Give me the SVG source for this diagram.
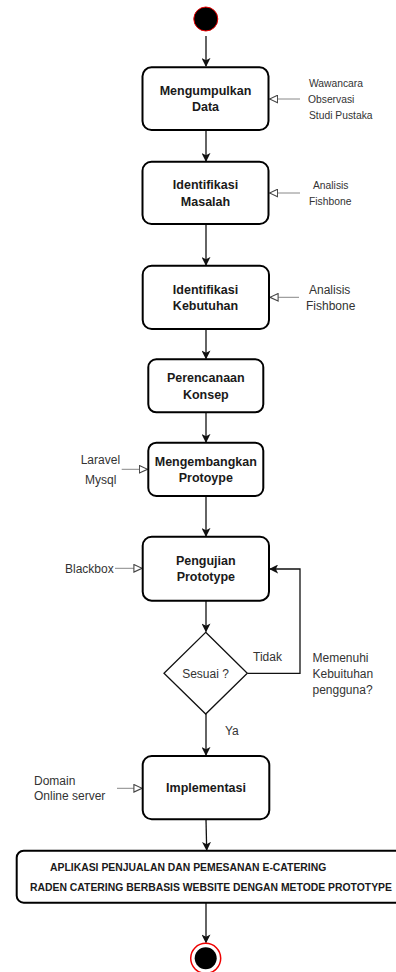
<svg xmlns="http://www.w3.org/2000/svg" width="396" height="972" viewBox="0 0 396 972">
<defs>
<style>
.box{fill:#fff;stroke:#000;stroke-width:2}
.t{font-family:"Liberation Sans",Arial,sans-serif;font-size:12.5px;font-weight:bold;fill:#1a1a1a;text-anchor:middle}
.s{font-family:"Liberation Sans",Arial,sans-serif;font-size:12px;fill:#333}
.s10{font-family:"Liberation Sans",Arial,sans-serif;font-size:10.3px;fill:#333}
.b{font-family:"Liberation Sans",Arial,sans-serif;font-size:10.4px;font-weight:bold;fill:#1a1a1a}
.flow{stroke:#111;stroke-width:1.3;fill:none;marker-end:url(#arr)}
.side{stroke:#888;stroke-width:1;fill:none;marker-end:url(#open)}
</style>
<marker id="arr" viewBox="0 0 10 10" refX="9" refY="5" markerWidth="9" markerHeight="9" markerUnits="userSpaceOnUse" orient="auto">
<path d="M0,0 L10,5 L0,10 L2.5,5 Z" fill="#111"/>
</marker>
<marker id="open" viewBox="0 0 10 10" refX="9.5" refY="5" markerWidth="9" markerHeight="9" markerUnits="userSpaceOnUse" orient="auto">
<path d="M0.5,0.8 L9.5,5 L0.5,9.2 Z" fill="#fff" stroke="#444" stroke-width="1.2"/>
</marker>
</defs>
<rect width="396" height="972" fill="#fff"/>

<g id="connectors">
<line class="flow" x1="206" y1="36" x2="206" y2="66"/>
<line class="flow" x1="206" y1="130" x2="206" y2="161"/>
<line class="flow" x1="206" y1="224" x2="206" y2="265"/>
<line class="flow" x1="206" y1="329" x2="206" y2="358.5"/>
<line class="flow" x1="206" y1="412.5" x2="206" y2="442"/>
<line class="flow" x1="206" y1="496" x2="206" y2="536"/>
<line class="flow" x1="206" y1="600.5" x2="206" y2="631.5"/>
<polyline class="flow" points="247.5,673.3 300,673.3 300,569 270,569"/>
<line class="flow" x1="206" y1="714" x2="206" y2="755"/>
<line class="flow" x1="206" y1="819.5" x2="206.7" y2="850"/>
<line class="flow" x1="206" y1="903" x2="206" y2="942.5"/>
<line class="side" x1="300" y1="99" x2="269.5" y2="99"/>
<line class="side" x1="300" y1="193" x2="269.5" y2="193"/>
<line class="side" x1="299" y1="297.3" x2="270" y2="297.3"/>
<line class="side" x1="121.7" y1="469.3" x2="147.5" y2="469.3"/>
<line class="side" x1="115" y1="568.3" x2="142" y2="568.3"/>
<line class="side" x1="117" y1="788.3" x2="142" y2="788.3"/>
</g>

<g id="start">
<circle cx="205.8" cy="19" r="12" fill="#000" stroke="#e00" stroke-width="1"/>
</g>

<g id="mengumpulkan-data">
<rect class="box" x="142.5" y="67.3" width="126" height="62.7" rx="9"/>
<text class="t" x="205.5" y="95">Mengumpulkan</text>
<text class="t" x="205.5" y="111">Data</text>
<text class="s10" x="309" y="87">Wawancara</text>
<text class="s10" x="308" y="103">Observasi</text>
<text class="s10" x="309" y="119">Studi Pustaka</text>
</g>

<g id="identifikasi-masalah">
<rect class="box" x="142.5" y="161.7" width="126" height="62.3" rx="9"/>
<text class="t" x="205.5" y="188.5">Identifikasi</text>
<text class="t" x="205.5" y="205.5">Masalah</text>
<text class="s10" x="313" y="189">Analisis</text>
<text class="s10" x="309" y="205">Fishbone</text>
</g>

<g id="identifikasi-kebutuhan">
<rect class="box" x="142.7" y="265.7" width="126.3" height="63.3" rx="9"/>
<text class="t" x="205.5" y="293.5">Identifikasi</text>
<text class="t" x="205.5" y="309.5">Kebutuhan</text>
<text class="s" x="309" y="293.5">Analisis</text>
<text class="s" x="306" y="309.5">Fishbone</text>
</g>

<g id="perencanaan-konsep">
<rect class="box" x="148.3" y="359.3" width="115" height="53" rx="8"/>
<text class="t" x="205.8" y="381.5">Perencanaan</text>
<text class="t" x="205.8" y="398.5">Konsep</text>
</g>

<g id="mengembangkan-protoype">
<rect class="box" x="148.3" y="442.7" width="115" height="53.3" rx="8"/>
<text class="t" x="205.8" y="466">Mengembangkan</text>
<text class="t" x="205.8" y="482">Protoype</text>
<text class="s" x="80.7" y="463.5">Laravel</text>
<text class="s" x="85" y="483.5">Mysql</text>
</g>

<g id="pengujian-prototype">
<rect class="box" x="142.7" y="536.7" width="126.3" height="64" rx="9"/>
<text class="t" x="205.8" y="565">Pengujian</text>
<text class="t" x="205.8" y="581">Prototype</text>
<text class="s" x="65" y="572.5">Blackbox</text>
</g>

<g id="sesuai">
<polygon points="205.7,632.3 247.3,673.3 205.7,714 164,673.3" fill="#fff" stroke="#111" stroke-width="1.3"/>
<text class="s" x="205.5" y="677.5" text-anchor="middle">Sesuai ?</text>
<text class="s" x="253" y="661">Tidak</text>
<text class="s" x="312.5" y="661.5">Memenuhi</text>
<text class="s" x="312.5" y="677.5">Kebuituhan</text>
<text class="s" x="312.5" y="693.5">pengguna?</text>
<text class="s" x="225" y="734.5">Ya</text>
</g>

<g id="implementasi">
<rect class="box" x="142.7" y="756" width="126.6" height="63.3" rx="9"/>
<text class="t" x="206" y="791.5">Implementasi</text>
<text class="s" x="34" y="784.5">Domain</text>
<text class="s" x="34" y="799.5">Online server</text>
</g>

<g id="aplikasi">
<rect class="box" x="16.7" y="850.7" width="390" height="52" rx="7"/>
<text class="b" x="50" y="870.5">APLIKASI PENJUALAN DAN PEMESANAN E-CATERING</text>
<text class="b" x="30" y="890.5">RADEN CATERING BERBASIS WEBSITE DENGAN METODE PROTOTYPE</text>
</g>

<g id="end">
<circle cx="205.7" cy="958.3" r="15" fill="#fff" stroke="#e00" stroke-width="1.5"/>
<circle cx="205.7" cy="958.3" r="11" fill="#000"/>
</g>
</svg>
